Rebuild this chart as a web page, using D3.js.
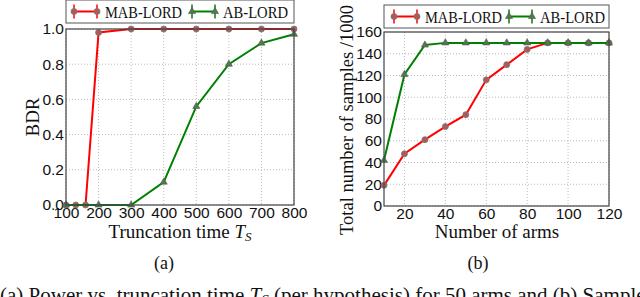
<!DOCTYPE html>
<html>
<head>
<meta charset="utf-8">
<script src="https://cdn.jsdelivr.net/npm/d3@7"></script>
<style>
  body { margin: 0; background: #fff; }
  svg { display: block; font-family: "Liberation Serif", "DejaVu Serif", serif; }
  .grid line { stroke: #bbb; stroke-dasharray: 1,2; }
  .tick text { font-size: 15.5px; fill: #111; }
</style>
</head>
<body>
<script>
// --- panel (a) data
const truncX = [100, 130, 160, 200, 300, 400, 500, 600, 700, 800];
const mabBDR = [0, 0, 0, 0.98, 1, 1, 1, 1, 1, 1];
const abX = [100, 200, 300, 400, 500, 600, 700, 800];
const abBDR = [0, 0, 0, 0.13, 0.56, 0.80, 0.92, 0.97];
const truncTicks = [100, 200, 300, 400, 500, 600, 700, 800];
const bdrTicks = [0, 0.2, 0.4, 0.6, 0.8, 1.0];

// --- panel (b) data
const arms = [10, 20, 30, 40, 50, 60, 70, 80, 90, 100, 110, 120];
const mabSamples = [19, 48, 61, 73, 84, 116, 130, 144, 150, 150, 150, 150];
const abSamples = [42, 121, 148, 150, 150, 150, 150, 150, 150, 150, 150, 150];
const armTicks = [20, 40, 60, 80, 100, 120];
const sampleTicks = [0, 20, 40, 60, 80, 100, 120, 140, 160];

const legendNames = ["MAB-LORD", "AB-LORD"];
const legendWidths = [77, 65];
const red = "#ff0000", green = "#008000";

const svg = d3.select("body").append("svg")
    .attr("width", 640)
    .attr("height", 297);

function panel(opt) {
    const x = d3.scaleLinear().domain(opt.xDomain).range([opt.left, opt.right]);
    const y = d3.scaleLinear().domain(opt.yDomain).range([opt.bottom, opt.top]);
    const g = svg.append("g");

    // grid
    g.append("g").attr("class", "grid")
        .selectAll("line").data(opt.xTicks).enter().append("line")
        .attr("x1", d => x(d)).attr("x2", d => x(d))
        .attr("y1", opt.top).attr("y2", opt.bottom);
    g.append("g").attr("class", "grid")
        .selectAll("line").data(opt.yTicks).enter().append("line")
        .attr("y1", d => y(d)).attr("y2", d => y(d))
        .attr("x1", opt.left).attr("x2", opt.right);

    // axes
    g.append("g")
        .attr("transform", "translate(0," + opt.bottom + ")")
        .call(d3.axisBottom(x).tickValues(opt.xTicks).tickSize(0).tickPadding(2).tickFormat(d3.format("d")))
        .call(a => a.select(".domain").remove());
    g.append("g")
        .attr("transform", "translate(" + opt.left + ",0)")
        .call(d3.axisLeft(y).tickValues(opt.yTicks).tickSize(0).tickPadding(2).tickFormat(opt.yFormat))
        .call(a => a.select(".domain").remove());
    g.selectAll(".tick text").attr("font-family", null);

    // lines
    const line = d3.line().x(d => x(d[0])).y(d => y(d[1]));
    opt.series.forEach(s => {
        const pts = d3.zip(s.x, s.y);
        g.append("path").datum(pts)
            .attr("fill", "none").attr("stroke", s.color).attr("stroke-width", 2)
            .attr("d", line);
        if (s.shape === "circle") {
            g.selectAll(null).data(pts).enter().append("circle")
                .attr("cx", d => x(d[0])).attr("cy", d => y(d[1])).attr("r", 3)
                .attr("fill", "#b05858").attr("stroke", "#777").attr("stroke-width", 0.8);
        } else {
            g.selectAll(null).data(pts).enter().append("path")
                .attr("transform", d => "translate(" + x(d[0]) + "," + y(d[1]) + ")")
                .attr("d", d3.symbol(d3.symbolTriangle, 22))
                .attr("fill", "#4f7a4f").attr("stroke", "#555").attr("stroke-width", 0.6);
        }
    });

    // frame
    g.append("rect")
        .attr("x", opt.left).attr("y", opt.top)
        .attr("width", opt.right - opt.left).attr("height", opt.bottom - opt.top)
        .attr("fill", "none").attr("stroke", "#444").attr("stroke-width", 1.2);

    // legend
    const lg = g.append("g");
    lg.append("rect")
        .attr("x", opt.left).attr("y", opt.legY)
        .attr("width", opt.right - opt.left).attr("height", 23)
        .attr("fill", "#fff").attr("stroke", "#555").attr("stroke-width", 1);
    const ly = opt.legY + 11.5;
    opt.series.forEach((s, i) => {
        const lx = opt.left + opt.legPad + i * opt.legGap;
        lg.append("line").attr("x1", lx).attr("x2", lx + 23).attr("y1", ly).attr("y2", ly)
            .attr("stroke", s.color).attr("stroke-width", 2);
        [lx, lx + 23].forEach(cx => {
            lg.append("line").attr("x1", cx).attr("x2", cx).attr("y1", ly - 7).attr("y2", ly + 7)
                .attr("stroke", s.color).attr("stroke-width", 1.5);
            if (s.shape === "circle") {
                lg.append("circle").attr("cx", cx).attr("cy", ly).attr("r", 3)
                    .attr("fill", "#b05858").attr("stroke", "#777").attr("stroke-width", 0.8);
            } else {
                lg.append("path").attr("transform", "translate(" + cx + "," + ly + ")")
                    .attr("d", d3.symbol(d3.symbolTriangle, 22))
                    .attr("fill", "#4f7a4f").attr("stroke", "#555").attr("stroke-width", 0.6);
            }
        });
        lg.append("text").attr("x", lx + 31).attr("y", ly + 6)
            .attr("font-size", 16.5).attr("fill", "#111")
            .attr("textLength", legendWidths[i]).attr("lengthAdjust", "spacingAndGlyphs")
            .text(legendNames[i]);
    });

    // titles
    const xt = g.append("text").attr("x", opt.xTitleX).attr("y", 238)
        .attr("text-anchor", "middle").attr("font-size", 19).attr("fill", "#111");
    opt.xTitle(xt);
    g.append("text")
        .attr("transform", "translate(" + opt.yTitleX + "," + opt.yTitleY + ") rotate(-90)")
        .attr("text-anchor", "middle").attr("font-size", opt.yTitleSize).attr("fill", "#111")
        .text(opt.yTitle);
    g.append("text").attr("x", opt.subX).attr("y", 269)
        .attr("text-anchor", "middle").attr("font-size", 18).attr("fill", "#111")
        .text(opt.sub);
}

panel({
    left: 66, right: 294, top: 29, bottom: 205, legY: 0, legPad: 8, legGap: 118,
    xDomain: [100, 800], yDomain: [0, 1],
    xTicks: truncTicks, yTicks: bdrTicks, yFormat: d3.format(".1f"),
    series: [
        {x: truncX, y: mabBDR, color: red, shape: "circle"},
        {x: abX, y: abBDR, color: green, shape: "triangle"}
    ],
    xTitleX: 180,
    xTitle: t => {
        t.append("tspan").text("Truncation time ");
        t.append("tspan").attr("font-style", "italic").text("T");
        t.append("tspan").attr("font-style", "italic").attr("font-size", 13).attr("dy", 3).text("S");
    },
    yTitle: "BDR", yTitleX: 39, yTitleY: 117, yTitleSize: 19,
    sub: "(a)", subX: 164
});

panel({
    left: 384, right: 609, top: 32, bottom: 206, legY: 5, legPad: 10, legGap: 115,
    xDomain: [10, 120], yDomain: [0, 160],
    xTicks: armTicks, yTicks: sampleTicks, yFormat: d3.format("d"),
    series: [
        {x: arms, y: mabSamples, color: red, shape: "circle"},
        {x: arms, y: abSamples, color: green, shape: "triangle"}
    ],
    xTitleX: 497,
    xTitle: t => t.text("Number of arms"),
    yTitle: "Total number of samples /1000", yTitleX: 353, yTitleY: 120, yTitleSize: 18.5,
    sub: "(b)", subX: 478
});

// figure caption, cut by the bottom edge
svg.append("text").attr("x", 0).attr("y", 302)
    .attr("font-size", 21).attr("fill", "#111")
    .call(t => {
        t.append("tspan").text("(a) Power vs. truncation time ");
        t.append("tspan").attr("font-style", "italic").text("T");
        t.append("tspan").attr("font-style", "italic").attr("font-size", 15).attr("dy", 3).text("S");
        t.append("tspan").attr("dy", -3).text(" (per hypothesis) for 50 arms and (b) Sample");
    });
</script>
</body>
</html>
